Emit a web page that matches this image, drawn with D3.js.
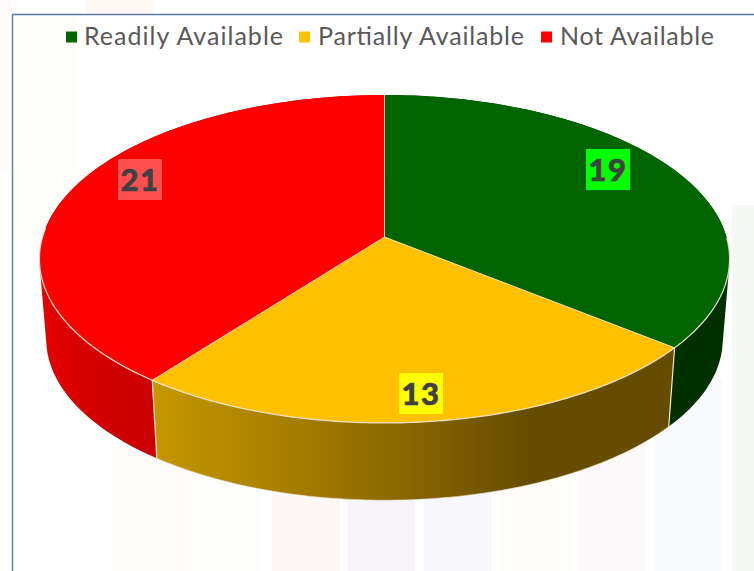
<!DOCTYPE html>
<html><head><meta charset="utf-8">
<script src="https://cdn.jsdelivr.net/npm/d3@7"></script>
<style>html,body{margin:0;padding:0;background:#fff}svg{display:block}</style>
</head><body><div id="c"></div>
<script>
const categories = ["Readily Available", "Partially Available", "Not Available"];
const values = [19, 13, 21];
const topColors = ["#006400", "#ffc000", "#ff0000"];

const W = 754, H = 571;
const svg = d3.select("#c").append("svg").attr("width", W).attr("height", H);
const defs = svg.append("defs");

// Faded backdrop of the slide
const ghosts = [
  [0,0,12,170,"#fffafa"],[85,0,68,14,"#fff9f6"],
  [13,15,62,225,"#fdfdfa"],
  [118,440,67,131,"#fffcfa"],[190,440,72,131,"#fdfefc"],[272,440,68,131,"#fdf8f6"],
  [348,440,67,131,"#f7f5fa"],[424,440,68,131,"#f9f8fc"],[500,440,70,131,"#fffdfa"],
  [578,440,67,131,"#fdf9fa"],[655,380,67,191,"#f8fafd"],[732,205,22,366,"#f5f9f6"]
];
svg.selectAll("rect.g").data(ghosts).join("rect").attr("class","g")
  .attr("x",d=>d[0]).attr("y",d=>d[1]).attr("width",d=>d[2]).attr("height",d=>d[3]).attr("fill",d=>d[4]);

// Frame
svg.append("path").attr("d","M12.5,571V14.5H754").attr("fill","none").attr("stroke","#5f78a8").attr("stroke-width",1.4);

// Pie geometry: tilted disc with perspective
const cx = 384.5, cy = 237, A = 342, B = 161, q = 0.134, shrink = 0.98, drop = 81;
const pie = d3.pie().sort(null)(values);
const project = (a, r = 1) => {
  const u = Math.sin(a) * r, v = -Math.cos(a) * r, k = 1 - q * v;
  return [A * u / k, B * v / k];
};
const topPt = a => { const p = project(a); return [cx + p[0], cy + p[1]]; };
const botPt = a => { const p = project(a); return [cx + p[0] * shrink, cy + p[1] * shrink + drop]; };
const arcAngles = s => d3.range(0, 121).map(i => s.startAngle + (s.endAngle - s.startAngle) * i / 120);
const line = d3.line();
const edge = "#efe6d2";

// Wall gradients
const addGrad = (id, stops) => {
  const g = defs.append("linearGradient").attr("id", id).attr("gradientUnits", "userSpaceOnUse")
    .attr("x1", 40).attr("x2", 729).attr("y1", 0).attr("y2", 0);
  stops.forEach(s => g.append("stop").attr("offset", (s[0] - 40) / 689).attr("stop-color", s[1]));
};
addGrad("w0", [[40,"#002f00"],[729,"#002f00"]]);
addGrad("w1", [[150,"#c59700"],[300,"#a47c00"],[400,"#8a6800"],[530,"#654c00"],[729,"#654c00"]]);
addGrad("w2", [[40,"#e80000"],[85,"#d60000"],[125,"#cc0000"],[729,"#cc0000"]]);

// Side walls: one path of same-winding quads, so the silhouette is the full sweep of the rim
[0, 2, 1].forEach(i => {
  const d = d3.pairs(arcAngles(pie[i])).map(([a, b]) => {
    const quad = [topPt(a), topPt(b), botPt(b), botPt(a)];
    if (d3.polygonArea(quad) < 0) quad.reverse();
    return line(quad) + "Z";
  }).join("");
  svg.append("path").attr("d", d).attr("fill", `url(#w${i})`).attr("fill-rule", "nonzero");
});
// Bright rim along the lower edge and the seams between walls
[pie[1]].forEach(s => {
  svg.append("path").attr("d", line(arcAngles(s).map(botPt))).attr("fill","none").attr("stroke",edge).attr("stroke-width",0.8).attr("stroke-opacity",0.7);
});
[pie[0].endAngle, pie[1].endAngle].forEach(a => {
  svg.append("path").attr("d", line([topPt(a), botPt(a)])).attr("fill","none").attr("stroke",edge).attr("stroke-width",1.2);
});

// Top faces
pie.forEach((s, i) => {
  const pts = [[cx, cy]].concat(arcAngles(s).map(topPt));
  svg.append("path").attr("d", line(pts) + "Z").attr("fill", topColors[i]);
});
// Radial seams and front rim on the top face
pie.forEach(s => {
  svg.append("path").attr("d", line([[cx, cy], topPt(s.startAngle)])).attr("fill","none").attr("stroke",edge).attr("stroke-width",1).attr("stroke-opacity",0.85);
  const ang = arcAngles(s).filter(a => a > Math.PI * 0.5 && a < Math.PI * 1.52);
  if (ang.length) svg.append("path").attr("d", line(ang.map(topPt))).attr("fill","none").attr("stroke",edge).attr("stroke-width",1.3).attr("stroke-opacity",0.9);
});

// Data labels
const labelBoxes = [[586,149,44,41,"#00ff00"],[399,373,44,41,"#ffff00"],[118,159,44,41,"#ff5050"]];
values.forEach((v, i) => {
  const b = labelBoxes[i];
  svg.append("rect").attr("x", b[0]).attr("y", b[1]).attr("width", b[2]).attr("height", b[3]).attr("fill", b[4]);
  svg.append("text").attr("x", b[0] + b[2] / 2).attr("y", b[1] + 32)
    .attr("text-anchor", "middle").attr("font-family", "Lato, sans-serif").attr("font-weight", 900)
    .attr("font-size", 31).attr("letter-spacing", 1.5).attr("stroke", "#404040").attr("stroke-width", 0.6)
    .attr("fill", "#404040").text(v);
});

// Legend
const legendX = [[66,84,199],[299,318,206],[541,560,154]];
categories.forEach((c, i) => {
  svg.append("rect").attr("x", legendX[i][0]).attr("y", 31.5).attr("width", 11).attr("height", 11).attr("fill", topColors[i]);
  svg.append("text").attr("x", legendX[i][1]).attr("y", 45).attr("font-family", "Lato, sans-serif")
    .attr("font-size", 25).attr("textLength", legendX[i][2]).attr("lengthAdjust", "spacing")
    .attr("fill", "#595959").text(c);
});
</script></body></html>
